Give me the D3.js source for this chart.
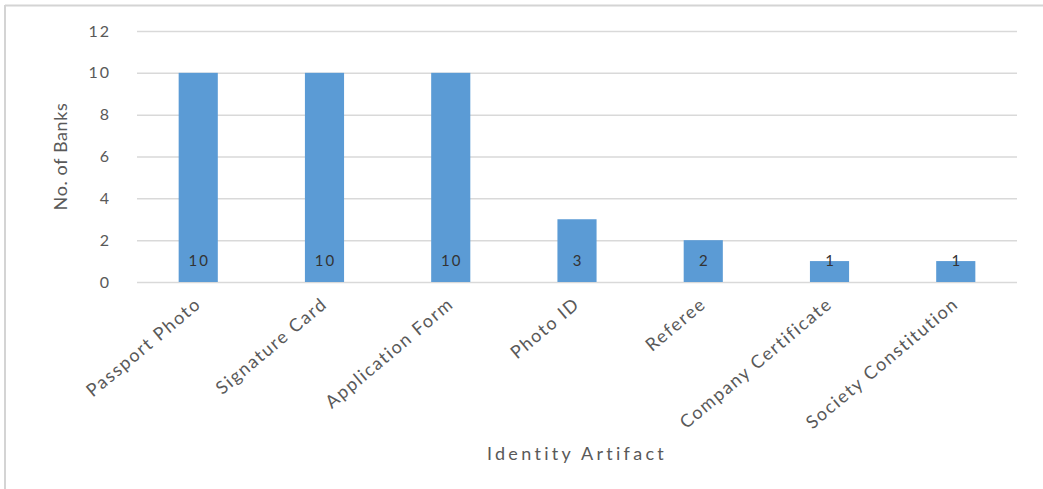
<!DOCTYPE html>
<html><head><meta charset="utf-8">
<script src="https://cdn.jsdelivr.net/npm/d3@7/dist/d3.min.js"></script>
<style>body{margin:0;background:#fff;}svg{display:block;}text{font-family:Lato,"Open Sans",sans-serif;}</style>
</head><body>
<svg id="c" width="1043" height="489"></svg>
<script>
const categories = ["Passport Photo","Signature Card","Application Form","Photo ID","Referee","Company Certificate","Society Constitution"];
const values = [10,10,10,3,2,1,1];
const yTicks = [0,2,4,6,8,10,12];
const yTitle = "No. of Banks";
const xTitle = "Identity Artifact";

(function(){
const svg = d3.select("#c");
svg.append("line").attr("x1",5).attr("x2",1043).attr("y1",5.5).attr("y2",5.5).attr("stroke","#d4d4d4").attr("stroke-width",2);
svg.append("line").attr("x1",5).attr("x2",5).attr("y1",5).attr("y2",489).attr("stroke","#d4d4d4").attr("stroke-width",2);

const pl=137, pr=1017, pt=31, pb=282;
const x = d3.scaleBand().domain(categories).range([pl,pr]).paddingInner(0.69).paddingOuter(0.33);
const y = d3.scaleLinear().domain([0,12]).range([pb,pt]);

const gAxis = svg.append("g").attr("transform",`translate(${pl},0)`)
  .call(d3.axisLeft(y).tickValues(yTicks).tickSize(-(pr-pl)).tickPadding(26));
gAxis.select(".domain").remove();
gAxis.selectAll(".tick line").attr("stroke","#d9d9d9").attr("stroke-width",1.5);
gAxis.selectAll(".tick text").attr("fill","#595959").style("font-size","16px").style("letter-spacing","2px");

svg.append("g").selectAll("rect").data(values).join("rect")
  .attr("x",(d,i)=>x(categories[i])).attr("width",x.bandwidth())
  .attr("y",d=>y(d)).attr("height",d=>y(0)-y(d)).attr("fill","#5b9bd5");

svg.append("g").selectAll("text").data(values).join("text")
  .attr("x",(d,i)=>x(categories[i])+x.bandwidth()/2+1)
  .attr("y",y(0)-21).attr("dy","0.35em").attr("text-anchor","middle")
  .attr("fill","#333").style("font-size","15px").style("letter-spacing","2px").text(d=>d);

const xa = svg.append("g").attr("transform",`translate(0,${pb})`)
  .call(d3.axisBottom(x).tickSize(0).tickPadding(0));
xa.select(".domain").remove();
xa.selectAll(".tick text").attr("text-anchor","end").attr("fill","#595959")
  .style("font-size","18px").style("letter-spacing","1.6px")
  .attr("dy",0).attr("y",0)
  .attr("transform","translate(4,24) rotate(-40)");

svg.append("text").attr("transform",`translate(67,${(pt+pb)/2}) rotate(-90)`)
  .attr("text-anchor","middle").attr("fill","#595959").style("font-size","18px").style("letter-spacing","0.6px").text(yTitle);
svg.append("text").attr("x",577).attr("y",460).attr("text-anchor","middle")
  .attr("fill","#595959").style("font-size","18px").style("letter-spacing","3.3px").text(xTitle);
})();
</script>
</body></html>
